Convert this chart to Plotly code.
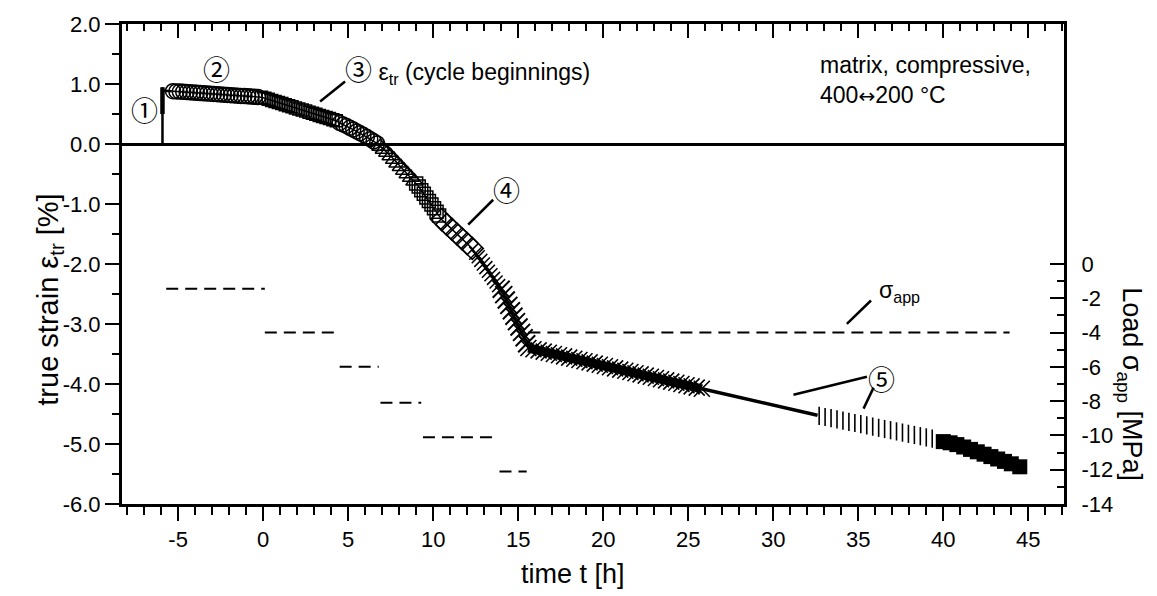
import plotly.graph_objects as go

FONT = "Liberation Sans, Arial, sans-serif"

# ---------------- data ----------------
# loading ramp (1)
t_load = [-5.92, -5.92, -5.92, -5.90, -5.37]
s_load = [0.0, 0.50, 0.945, 0.89, 0.88]

# (2) circles
t_c1 = [-5.3, -5.1, -4.9, -4.7, -4.5, -4.3, -4.1, -3.9, -3.7, -3.5, -3.3, -3.1, -2.9,
        -2.7, -2.5, -2.3, -2.1, -1.9, -1.7, -1.5, -1.3, -1.1, -0.9, -0.7, -0.5, -0.3]
s_c1 = [0.880, 0.877, 0.873, 0.869, 0.865, 0.861, 0.857, 0.853, 0.849, 0.845, 0.842, 0.838, 0.834,
        0.830, 0.826, 0.822, 0.818, 0.814, 0.810, 0.806, 0.802, 0.798, 0.794, 0.790, 0.786, 0.782]
# squares
t_sq = [-0.1, 0.1, 0.3, 0.5, 0.7, 0.9, 1.1, 1.3, 1.5, 1.7, 1.9, 2.1, 2.3, 2.5, 2.7, 2.9,
        3.1, 3.3, 3.5, 3.7, 3.9, 4.1, 4.3]
s_sq = [0.780, 0.762, 0.744, 0.727, 0.709, 0.691, 0.673, 0.655, 0.638, 0.620, 0.602, 0.584,
        0.566, 0.549, 0.531, 0.513, 0.495, 0.477, 0.460, 0.442, 0.424, 0.406, 0.388]
# circles again
t_c2 = [4.5, 4.7, 4.9, 5.1, 5.3, 5.5, 5.7, 5.9, 6.1, 6.3, 6.5, 6.7]
s_c2 = [0.35, 0.325, 0.30, 0.27, 0.24, 0.21, 0.18, 0.15, 0.115, 0.08, 0.045, 0.01]
# triangles up
t_tu = [6.9, 7.1, 7.3, 7.5, 7.7, 7.9, 8.1, 8.3, 8.5, 8.7, 8.9]
s_tu = [-0.04, -0.09, -0.14, -0.20, -0.26, -0.32, -0.38, -0.44, -0.50, -0.56, -0.62]
# squares (steep part)
t_sq2 = [9.0, 9.15, 9.3, 9.45, 9.6, 9.75, 9.9, 10.05, 10.2, 10.35]
s_sq2 = [-0.66, -0.71, -0.77, -0.83, -0.89, -0.95, -1.01, -1.07, -1.13, -1.19]
# (4) diamonds
t_dm = [10.5, 10.8, 11.1, 11.4, 11.7, 12.0, 12.3]
s_dm = [-1.26, -1.34, -1.42, -1.50, -1.58, -1.66, -1.74]
# crosses
t_x1 = [12.5, 12.65, 12.8, 12.95, 13.1, 13.25, 13.4, 13.55, 13.7, 13.85]
s_x1 = [-1.82, -1.88, -1.94, -2.00, -2.06, -2.12, -2.18, -2.24, -2.30, -2.36]
# spiky crosses
t_x2 = [14.0, 14.15, 14.3, 14.45, 14.6, 14.75, 14.9, 15.05, 15.2, 15.35, 15.5]
s_x2 = [-2.42, -2.51, -2.60, -2.69, -2.78, -2.87, -2.96, -3.05, -3.14, -3.23, -3.33]
# dense band
t_band = [15.6, 15.9, 16.2, 16.5, 16.8, 17.1, 17.4, 17.7, 18.0, 18.3, 18.6, 18.9, 19.2,
          19.5, 19.8, 20.1, 20.4, 20.7, 21.0, 21.3, 21.6, 21.9, 22.2, 22.5, 22.8, 23.1,
          23.4, 23.7, 24.0, 24.3, 24.6, 24.9, 25.2, 25.5, 25.8]
s_band = [-3.40, -3.42, -3.44, -3.46, -3.48, -3.50, -3.52, -3.54, -3.56, -3.58, -3.60, -3.62,
          -3.64, -3.66, -3.68, -3.70, -3.72, -3.74, -3.76, -3.78, -3.80, -3.82, -3.84, -3.86,
          -3.88, -3.90, -3.92, -3.94, -3.96, -3.98, -4.00, -4.02, -4.04, -4.06, -4.08]
# (5) plain line
t_line = [25.8, 32.6]
s_line = [-4.08, -4.52]
# vertical bars
t_bar = [32.7, 33.05, 33.4, 33.75, 34.1, 34.45, 34.8, 35.15, 35.5, 35.85, 36.2, 36.55,
         36.9, 37.25, 37.6, 37.95, 38.3, 38.65, 39.0, 39.35]
s_bar = [-4.53, -4.55, -4.57, -4.59, -4.61, -4.63, -4.65, -4.67, -4.69, -4.71, -4.73, -4.75,
         -4.77, -4.79, -4.81, -4.83, -4.85, -4.87, -4.89, -4.91]
# filled squares
t_fsq = [40.0, 40.4, 40.8, 41.2, 41.6, 42.0, 42.4, 42.8, 43.2, 43.6, 44.0, 44.5]
s_fsq = [-4.96, -4.98, -5.01, -5.05, -5.09, -5.13, -5.17, -5.21, -5.25, -5.29, -5.33, -5.38]

# applied load (right axis), None separates the load steps
t_sig = [-5.7, 0.1, None, 0.1, 4.4, None, 4.5, 6.8, None, 6.9, 9.3, None,
         9.4, 13.8, None, 13.9, 15.5, None, 15.6, 43.9]
v_sig = [-1.45, -1.45, None, -4.0, -4.0, None, -6.0, -6.0, None, -8.1, -8.1, None,
         -10.1, -10.1, None, -12.1, -12.1, None, -4.0, -4.0]

# tick labels
x_ticks = [-5, 0, 5, 10, 15, 20, 25, 30, 35, 40, 45]
x_ticktext = ["-5", "0", "5", "10", "15", "20", "25", "30", "35", "40", "45"]
y_ticks = [2, 1, 0, -1, -2, -3, -4, -5, -6]
y_ticktext = ["2.0", "1.0", "0.0", "-1.0", "-2.0", "-3.0", "-4.0", "-5.0", "-6.0"]
y2_ticks = [0, -2, -4, -6, -8, -10, -12, -14]
y2_ticktext = ["0", "-2", "-4", "-6", "-8", "-10", "-12", "-14"]
y2_minor = [-1, -3, -5, -7, -9, -11, -13]

# ---------------- figure ----------------
fig = go.Figure()

# connecting line through cycle-beginning points (up to the start of the bar section)
t_all = t_c1 + t_sq + t_c2 + t_tu + t_sq2 + t_dm + t_x1 + t_x2 + t_band + t_line
s_all = s_c1 + s_sq + s_c2 + s_tu + s_sq2 + s_dm + s_x1 + s_x2 + s_band + s_line
fig.add_trace(go.Scatter(x=t_all, y=s_all, mode="lines", line=dict(color="black", width=1.5),
                         showlegend=False, hoverinfo="skip"))
fig.add_trace(go.Scatter(x=t_band, y=s_band, mode="lines", line=dict(color="black", width=9),
                         showlegend=False))
fig.add_trace(go.Scatter(x=t_line, y=s_line, mode="lines", line=dict(color="black", width=3.5),
                         showlegend=False))
fig.add_trace(go.Scatter(x=t_fsq, y=s_fsq, mode="lines", line=dict(color="black", width=3),
                         showlegend=False))
fig.add_trace(go.Scatter(x=t_load, y=s_load, mode="lines", line=dict(color="black", width=2.5),
                         showlegend=False))
fig.add_trace(go.Scatter(x=t_load[1:3], y=s_load[1:3], mode="lines", line=dict(color="black", width=4.5),
                         showlegend=False))


def mk(t, s, symbol, size, lw=1.5):
    fig.add_trace(go.Scatter(
        x=t, y=s, mode="markers", showlegend=False,
        marker=dict(symbol=symbol, size=size, color="black",
                    line=dict(color="black", width=lw))))


mk(t_c1, s_c1, "circle-open", 15)
mk(t_sq, s_sq, "square-open", 12)
mk(t_c2, s_c2, "circle-open", 15)
mk(t_tu, s_tu, "triangle-up-open", 15)
mk(t_sq2, s_sq2, "square-open", 13)
mk(t_dm, s_dm, "diamond-open", 17)
mk(t_x1, s_x1, "x-thin", 13, 1.5)
mk(t_x2, s_x2, "x-thin", 17, 2)
mk(t_band, s_band, "x-thin", 16, 1.6)
mk(t_bar, s_bar, "line-ns", 13, 1.6)
mk(t_fsq, s_fsq, "square", 15, 0)

# applied stress, dashed
fig.add_trace(go.Scatter(x=t_sig, y=v_sig, yaxis="y2", mode="lines", connectgaps=False,
                         line=dict(color="black", width=2, dash="12px,7px"), showlegend=False))
# helper trace for the top axis
fig.add_trace(go.Scatter(x=[None], y=[None], xaxis="x3", yaxis="y", showlegend=False))

tickfont = dict(family=FONT, size=22, color="black")
X_RANGE = [-8.3, 47.1]

fig.update_layout(
    width=1157, height=596,
    margin=dict(l=122, r=93, t=21, b=92),
    plot_bgcolor="white", paper_bgcolor="white",
    font=dict(family=FONT, color="black"),
    xaxis=dict(range=X_RANGE, tickmode="array", tickvals=x_ticks, ticktext=x_ticktext,
               ticks="outside", ticklen=14, tickwidth=2, tickcolor="black", showline=True,
               linewidth=3, linecolor="black", showgrid=False, zeroline=False, tickfont=tickfont,
               minor=dict(tickmode="linear", tick0=0, dtick=1, ticks="outside", ticklen=8,
                          tickwidth=2, tickcolor="black")),
    xaxis3=dict(range=X_RANGE, overlaying="x", side="top", tickmode="array", tickvals=x_ticks,
                ticks="inside", ticklen=14, tickwidth=2, tickcolor="black", showline=True,
                linewidth=3, linecolor="black", showgrid=False, zeroline=False,
                showticklabels=False,
                minor=dict(tickmode="linear", tick0=0, dtick=1, ticks="inside", ticklen=7,
                           tickwidth=2, tickcolor="black")),
    yaxis=dict(range=[-6, 2], tickmode="array", tickvals=y_ticks, ticktext=y_ticktext,
               ticks="outside", ticklen=14, tickwidth=2, tickcolor="black", showline=True,
               linewidth=3, linecolor="black", mirror=True, showgrid=False,
               zeroline=True, zerolinewidth=3, zerolinecolor="black", tickfont=tickfont,
               minor=dict(tickmode="linear", tick0=0, dtick=0.5, ticks="outside", ticklen=7,
                          tickwidth=2, tickcolor="black")),
    yaxis2=dict(range=[-14, 14], overlaying="y", side="right", tickmode="array",
                tickvals=y2_ticks, ticktext=y2_ticktext, ticks="inside", ticklen=14,
                tickwidth=2, tickcolor="black", showline=True, linewidth=3, linecolor="black",
                showgrid=False, zeroline=False, tickfont=tickfont, ticklabelstandoff=10,
                minor=dict(tickmode="array", tickvals=y2_minor, ticks="inside", ticklen=7,
                           tickwidth=2, tickcolor="black")),
)

ann_font = dict(family=FONT, size=23, color="black")
CIRC = "Noto Sans CJK JP, Noto Sans CJK SC, sans-serif"
circ_font = dict(family=CIRC, size=27, color="black")
annotations = [
    dict(text="\u2460", x=-7.0, y=0.58, xref="x", yref="y", font=circ_font),
    dict(text="\u2461", x=-2.73, y=1.26, xref="x", yref="y", font=circ_font),
    dict(text="<span style='font-family:Noto Sans CJK JP;font-size:27px'>\u2462</span> \u03b5<sub>tr</sub> (cycle beginnings)",
         x=4.72, y=1.26, xref="x", yref="y", xanchor="left", font=ann_font),
    dict(text="\u2463", x=14.33, y=-0.76, xref="x", yref="y", font=circ_font),
    dict(text="\u2464", x=36.39, y=-3.91, xref="x", yref="y", font=circ_font),
    dict(text="\u03c3<sub>app</sub>", x=36.1, y=-1.6, xref="x", yref="y2", xanchor="left",
         font=ann_font),
    dict(text="matrix, compressive,<br>400<span style='font-family:DejaVu Sans;font-size:20px'>\u2194</span>200 \u00b0C",
         x=32.65, y=1.066, xref="x", yref="y", xanchor="left", align="left", font=ann_font),
    # axis titles
    dict(text="time t [h]", x=0.479, y=-0.145, xref="paper", yref="paper", yanchor="middle",
         font=dict(family=FONT, size=27, color="black")),
    dict(text="true strain \u03b5<sub>tr</sub> [%]", x=-0.098, y=-2.6, xref="paper", yref="y",
         textangle=-90, font=dict(family=FONT, size=29, color="black")),
    dict(text="Load \u03c3<sub>app</sub> [MPa]", x=1.09, y=-7.0, xref="paper", yref="y2",
         textangle=90, font=dict(family=FONT, size=27, color="black")),
]
for a in annotations:
    a.setdefault("showarrow", False)
fig.update_layout(annotations=annotations)

line_style = dict(color="black", width=2.5)
shapes = [
    dict(type="line", xref="x", yref="y", x0=3.35, y0=0.708, x1=4.82, y1=1.04, line=line_style),
    dict(type="line", xref="x", yref="y", x0=12.06, y0=-1.343, x1=13.53, y1=-0.929, line=line_style),
    dict(type="line", xref="x", yref="y2", x0=34.33, y0=-3.49, x1=35.75, y1=-2.13, line=line_style),
    dict(type="line", xref="x", yref="y", x0=31.19, y0=-4.18, x1=35.51, y1=-3.88, line=line_style),
    dict(type="line", xref="x", yref="y", x0=35.9, y0=-4.06, x1=35.31, y1=-4.41, line=line_style),
]
fig.update_layout(shapes=shapes)

fig.write_html("out.html")
